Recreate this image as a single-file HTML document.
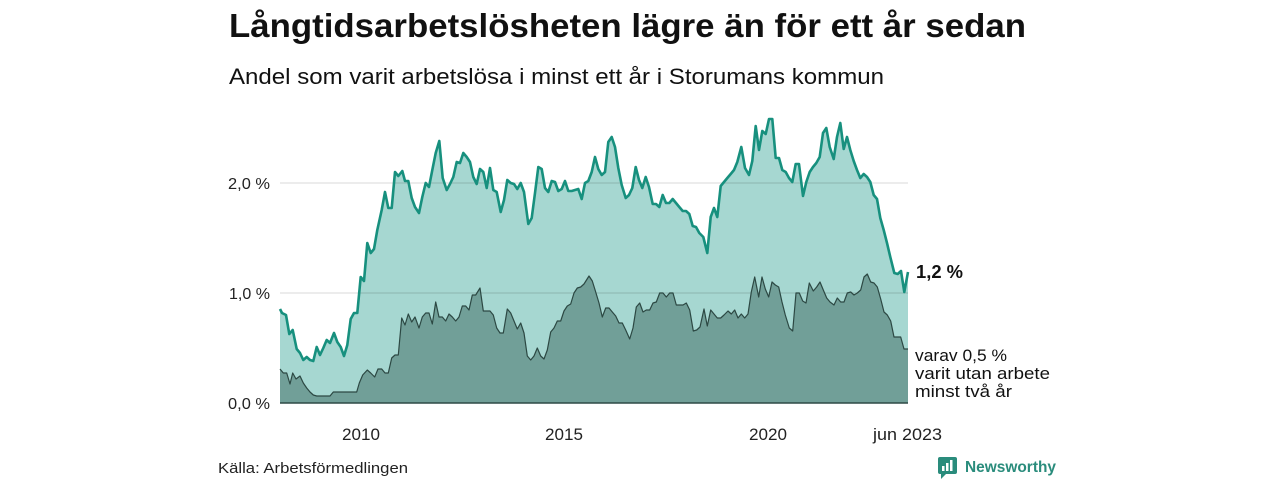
<!DOCTYPE html>
<html><head><meta charset="utf-8"><style>
html,body{margin:0;padding:0;background:#fff;}
svg{display:block;}
text{font-family:"Liberation Sans","DejaVu Sans",sans-serif;}
</style></head><body>
<svg width="1280" height="480" viewBox="0 0 1280 480" xmlns="http://www.w3.org/2000/svg">
<rect width="1280" height="480" fill="#fff"/>
<text x="229" y="37" font-size="33" font-weight="bold" fill="#111" textLength="797" lengthAdjust="spacingAndGlyphs">Långtidsarbetslösheten lägre än för ett år sedan</text>
<text x="229" y="84" font-size="22" fill="#111" textLength="655" lengthAdjust="spacingAndGlyphs">Andel som varit arbetslösa i minst ett år i Storumans kommun</text>

<!-- light area -->
<path fill="#a6d7d1" d="M280,403 L280,309 282,313 286,315 289.3,334 292.7,330 296.7,349 300,353 303.3,360 306.7,357 310,360 313.3,361 316.7,347 320,355 323.3,348 326.7,340 330,343 334,333 337.3,342 340.7,347 344,356 347.3,345 350.7,319 354,313 357.3,313 360.7,277 364,281 367.3,243 370.7,253 374,249 377.3,230 381.7,210 385,192 388.3,208 391.7,208 395,172 398.3,176 402.3,171 405,181 408.3,181 411.7,198 415,207 419,213 422.3,197 425.7,183 429,187 432.3,170 435.7,153 439.3,141 442.7,178 446.7,190 450,184 453.3,177 456.7,162 460,163 463.3,153 466.7,157 470,162 473.3,177 476.7,184 480,169 483.3,172 486.7,188 490,168 493.3,190 496.7,192 500.7,212 504,200 507.3,180 510.7,183 514,184 517.3,189 520.7,183 524,192 528.3,224 531.7,218 535,193 538.3,167 541.7,169 545,188 548.3,192 551.7,181 555,182 558.3,191 561.7,189 565,181 568.3,191 571.7,191 575,190 578.3,189 581.7,199 585,183 588.3,181 591.7,172 595,157 598.3,169 601.7,175 605,172 608.3,142 611.7,137 615,147 618.3,168 621.7,185 625.7,198 629,195 632.3,188 635.7,167 639,180 642.3,188 645.7,177 649,187 652.7,204 656,204 659.3,207 662.7,195 666,203 669.3,203 672.7,199 676,203 679.3,207 682.7,211 686,211 689.3,214 692.7,226 696,227 699.3,233 703.3,237 707.3,253 710.7,217 714,208 717.3,217 720.7,186 724,182 727.3,178 730.7,174 734,170 737.3,162 741.3,147 745,168 749,175 752.3,161 755.7,126 759,150 762.3,131 765.7,134 769,119 772.3,119 775.7,158 779,158 782.3,170 785.7,172 789,178 792.3,182 795.7,164 799,164 803,196 806.3,182 809.7,172 813,167 816.3,163 819.7,157 823,133 826.3,128 829.7,147 833.7,159 837,137 840.3,123 843.7,149 847,137 850.3,150 853.7,161 857,170 860.3,178 863.7,174 867,177 870.3,182 873.7,195 877,199 880.3,218 883.7,230 887,243 890.3,257 894.3,273 897.7,274 901,271 904.3,292 908,272 L908,403 Z"/>

<!-- gridlines -->
<line x1="280" y1="183" x2="908" y2="183" stroke="#000" stroke-opacity="0.1" stroke-width="1.5"/>
<line x1="280" y1="293" x2="908" y2="293" stroke="#000" stroke-opacity="0.1" stroke-width="1.5"/>

<!-- dark area -->
<path fill="#719f98" d="M280,403 L280,369 283.3,373 286.7,373 290,384 292.7,373 296,379 300,376 303.3,383 306.7,388 310,392 313.3,395 316.7,396 330,396 333.3,392 356.7,392 359.3,383 362.7,375 367.3,370 370.7,373 374.7,377 378,369 381.7,369 385,373 388.3,373 391.7,358 395,355 398.3,355 401.7,318 405,325 408.3,314 411.7,322 415,317 419,328 422.3,317 425.7,313 429,313 432.3,324 435.7,302 439,317 442.3,317 445.7,321 449,314 452.3,317 455.7,321 459,317 462.3,306 465.7,306 469,310 472.3,295 475.7,295 480,288 483.3,311 486.7,311 490,311 493.3,315 496.7,328 500,333 503.3,333 507.3,309 510.7,313 514,321 517.3,329 520.7,323 524,333 527.3,356 530.7,360 534,356 537.3,348 540.7,356 544,359 547.3,350 550.7,332 554,328 557.3,321 560.7,321 564,311 567.3,306 570.7,304 574,293 577.3,288 580.7,287 584,284 589,276 592.3,281 595.7,292 599,303 602.3,317 605.7,308 609,308 612.3,312 615.7,316 619,323 622.3,323 625.7,330 629.7,339 633,328 636.3,307 639.7,303 643,312 646.3,310 649.7,310 653,303 656.3,302 659.7,293 663,293 666.3,297 669.7,293 673,293 676.3,305 679.7,305 683,305 686.3,303 689.7,310 693.3,331 696.7,330 700,327 704,309 707.3,326 710.7,310 714,314 717.3,318 720.7,318 724,315 728,311 731.3,314 734.7,310 738,318 741.3,314 744.7,318 748,314 751.3,292 754.7,277 758.7,297 762,277 765.3,289 768.7,297 772,282 775.3,285 778.7,287 782,302 785.3,315 789.3,328 792.7,331 796,293 799.3,293 802.7,301 806,303 809.3,283 813.3,291 816.7,287 820,282 823.3,290 826.7,298 830,302 834,305 837.3,298 840.7,302 844,302 847.3,293 850.7,292 854,295 857.3,293 860.7,290 864,277 867.3,274 870.7,282 874,283 877.3,287 880.7,299 884,312 887.3,315 890.7,321 894,337 897.3,337 900.7,337 904,349 908,349 L908,403 Z"/>
<polyline fill="none" stroke="#2c4843" stroke-width="1.2" stroke-linejoin="round" points="280,369 283.3,373 286.7,373 290,384 292.7,373 296,379 300,376 303.3,383 306.7,388 310,392 313.3,395 316.7,396 330,396 333.3,392 356.7,392 359.3,383 362.7,375 367.3,370 370.7,373 374.7,377 378,369 381.7,369 385,373 388.3,373 391.7,358 395,355 398.3,355 401.7,318 405,325 408.3,314 411.7,322 415,317 419,328 422.3,317 425.7,313 429,313 432.3,324 435.7,302 439,317 442.3,317 445.7,321 449,314 452.3,317 455.7,321 459,317 462.3,306 465.7,306 469,310 472.3,295 475.7,295 480,288 483.3,311 486.7,311 490,311 493.3,315 496.7,328 500,333 503.3,333 507.3,309 510.7,313 514,321 517.3,329 520.7,323 524,333 527.3,356 530.7,360 534,356 537.3,348 540.7,356 544,359 547.3,350 550.7,332 554,328 557.3,321 560.7,321 564,311 567.3,306 570.7,304 574,293 577.3,288 580.7,287 584,284 589,276 592.3,281 595.7,292 599,303 602.3,317 605.7,308 609,308 612.3,312 615.7,316 619,323 622.3,323 625.7,330 629.7,339 633,328 636.3,307 639.7,303 643,312 646.3,310 649.7,310 653,303 656.3,302 659.7,293 663,293 666.3,297 669.7,293 673,293 676.3,305 679.7,305 683,305 686.3,303 689.7,310 693.3,331 696.7,330 700,327 704,309 707.3,326 710.7,310 714,314 717.3,318 720.7,318 724,315 728,311 731.3,314 734.7,310 738,318 741.3,314 744.7,318 748,314 751.3,292 754.7,277 758.7,297 762,277 765.3,289 768.7,297 772,282 775.3,285 778.7,287 782,302 785.3,315 789.3,328 792.7,331 796,293 799.3,293 802.7,301 806,303 809.3,283 813.3,291 816.7,287 820,282 823.3,290 826.7,298 830,302 834,305 837.3,298 840.7,302 844,302 847.3,293 850.7,292 854,295 857.3,293 860.7,290 864,277 867.3,274 870.7,282 874,283 877.3,287 880.7,299 884,312 887.3,315 890.7,321 894,337 897.3,337 900.7,337 904,349 908,349"/>

<!-- upper line -->
<polyline fill="none" stroke="#17907e" stroke-width="2.6" stroke-linejoin="round" points="280,309 282,313 286,315 289.3,334 292.7,330 296.7,349 300,353 303.3,360 306.7,357 310,360 313.3,361 316.7,347 320,355 323.3,348 326.7,340 330,343 334,333 337.3,342 340.7,347 344,356 347.3,345 350.7,319 354,313 357.3,313 360.7,277 364,281 367.3,243 370.7,253 374,249 377.3,230 381.7,210 385,192 388.3,208 391.7,208 395,172 398.3,176 402.3,171 405,181 408.3,181 411.7,198 415,207 419,213 422.3,197 425.7,183 429,187 432.3,170 435.7,153 439.3,141 442.7,178 446.7,190 450,184 453.3,177 456.7,162 460,163 463.3,153 466.7,157 470,162 473.3,177 476.7,184 480,169 483.3,172 486.7,188 490,168 493.3,190 496.7,192 500.7,212 504,200 507.3,180 510.7,183 514,184 517.3,189 520.7,183 524,192 528.3,224 531.7,218 535,193 538.3,167 541.7,169 545,188 548.3,192 551.7,181 555,182 558.3,191 561.7,189 565,181 568.3,191 571.7,191 575,190 578.3,189 581.7,199 585,183 588.3,181 591.7,172 595,157 598.3,169 601.7,175 605,172 608.3,142 611.7,137 615,147 618.3,168 621.7,185 625.7,198 629,195 632.3,188 635.7,167 639,180 642.3,188 645.7,177 649,187 652.7,204 656,204 659.3,207 662.7,195 666,203 669.3,203 672.7,199 676,203 679.3,207 682.7,211 686,211 689.3,214 692.7,226 696,227 699.3,233 703.3,237 707.3,253 710.7,217 714,208 717.3,217 720.7,186 724,182 727.3,178 730.7,174 734,170 737.3,162 741.3,147 745,168 749,175 752.3,161 755.7,126 759,150 762.3,131 765.7,134 769,119 772.3,119 775.7,158 779,158 782.3,170 785.7,172 789,178 792.3,182 795.7,164 799,164 803,196 806.3,182 809.7,172 813,167 816.3,163 819.7,157 823,133 826.3,128 829.7,147 833.7,159 837,137 840.3,123 843.7,149 847,137 850.3,150 853.7,161 857,170 860.3,178 863.7,174 867,177 870.3,182 873.7,195 877,199 880.3,218 883.7,230 887,243 890.3,257 894.3,273 897.7,274 901,271 904.3,292 908,272"/>

<!-- baseline -->
<line x1="280" y1="403" x2="908" y2="403" stroke="#2e4a46" stroke-width="1.6"/>

<!-- y labels -->
<g font-size="16" fill="#222">
<text x="228" y="189" textLength="42" lengthAdjust="spacingAndGlyphs">2,0 %</text>
<text x="229" y="299" textLength="41" lengthAdjust="spacingAndGlyphs">1,0 %</text>
<text x="228" y="409" textLength="42" lengthAdjust="spacingAndGlyphs">0,0 %</text>
</g>
<!-- x labels -->
<g font-size="16.5" fill="#222">
<text x="342" y="440" textLength="38" lengthAdjust="spacingAndGlyphs">2010</text>
<text x="545" y="440" textLength="38" lengthAdjust="spacingAndGlyphs">2015</text>
<text x="749" y="440" textLength="38" lengthAdjust="spacingAndGlyphs">2020</text>
<text x="873" y="440" textLength="69" lengthAdjust="spacingAndGlyphs">jun 2023</text>
</g>

<!-- end labels -->
<text x="916" y="278" font-size="18.5" font-weight="bold" fill="#111" textLength="47" lengthAdjust="spacingAndGlyphs">1,2 %</text>
<g font-size="17" fill="#111">
<text x="915" y="361" textLength="92" lengthAdjust="spacingAndGlyphs">varav 0,5 %</text>
<text x="915" y="379" textLength="135" lengthAdjust="spacingAndGlyphs">varit utan arbete</text>
<text x="915" y="397" textLength="97" lengthAdjust="spacingAndGlyphs">minst två år</text>
</g>

<text x="218" y="473" font-size="15" fill="#222" textLength="190" lengthAdjust="spacingAndGlyphs">Källa: Arbetsförmedlingen</text>

<!-- logo -->
<g>
<rect x="938" y="457" width="19" height="17" rx="2" fill="#2a8c7c"/>
<path d="M941,473 L941,479 L947,473 Z" fill="#2a8c7c"/>
<rect x="942" y="466" width="2.5" height="5" fill="#fff"/>
<rect x="946" y="463" width="2.5" height="8" fill="#fff"/>
<rect x="950" y="460" width="2.5" height="11" fill="#fff"/>
</g>
<text x="965" y="472" font-size="16" font-weight="bold" fill="#2a8c7c" textLength="91" lengthAdjust="spacingAndGlyphs">Newsworthy</text>
</svg>
</body></html>
